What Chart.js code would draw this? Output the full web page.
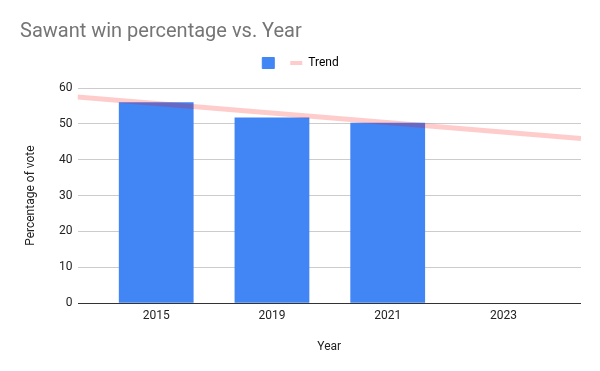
<!DOCTYPE html>
<html>
<head>
<meta charset="utf-8">
<script src="https://cdn.jsdelivr.net/npm/chart.js@4"></script>
<style>
  html, body { margin: 0; padding: 0; background: #fff; }
  #wrap { width: 600px; height: 371px; position: relative; }
</style>
</head>
<body>
<div id="wrap"><canvas id="winChart"></canvas></div>
<script>
// data
const years = ["2015", "2019", "2021", "2023"];
const winPct = [56.0, 51.8, 50.3, null];
// trend line end points (x in category index units, as drawn)
const trendX = [-0.68, 3.67];
const trendY = [57.5, 45.9];
const yTicks = [0, 10, 20, 30, 40, 50, 60];

const FONT = "Roboto, 'Liberation Sans', Arial, sans-serif";
const barColor = "#4285f4";
const trendColor = "rgba(255, 0, 0, 0.2)";
const trendKey = "#ffcccc";

// push the plot down a little below the legend
const legendGap = {
  id: "legendGap",
  afterInit(chart) {
    const lg = chart.legend;
    const fit = lg.fit;
    lg.fit = function () {
      fit.call(this);
      this.height += 9;
    };
  },
};

const ctx = document.getElementById("winChart");
new Chart(ctx, {
  data: {
    datasets: [
      {
        type: "bar",
        label: "",
        data: winPct.map((v, i) => ({ x: i, y: v })),
        backgroundColor: barColor,
        barPercentage: 0.646,
        categoryPercentage: 1,
        order: 2,
      },
      {
        type: "line",
        label: "Trend",
        data: trendX.map((x, i) => ({ x: x, y: trendY[i] })),
        borderColor: trendColor,
        borderWidth: 5,
        pointRadius: 0,
        fill: false,
        order: 1,
      },
    ],
  },
  plugins: [legendGap],
  options: {
    responsive: true,
    maintainAspectRatio: false,
    animation: false,
    layout: { padding: { left: 20, right: 19, top: 0, bottom: 13 } },
    plugins: {
      title: {
        display: true,
        text: "Sawant win percentage vs. Year",
        align: "start",
        color: "#757575",
        font: { family: FONT, size: 20, weight: "normal" },
        padding: { top: 20, bottom: 3 },
      },
      legend: {
        display: true,
        labels: {
          font: { family: FONT, size: 12 },
          color: "#222",
          boxWidth: 11,
          boxHeight: 11,
          padding: 10,
          usePointStyle: true,
          pointStyleWidth: 12,
          generateLabels: () => [
            {
              text: "",
              pointStyle: "rect",
              fillStyle: barColor,
              strokeStyle: barColor,
              lineWidth: 1,
              datasetIndex: 0,
            },
            {
              text: "Trend",
              pointStyle: "line",
              fillStyle: trendKey,
              strokeStyle: trendKey,
              lineWidth: 4,
              datasetIndex: 1,
            },
          ],
        },
      },
      tooltip: { enabled: false },
    },
    scales: {
      x: {
        type: "linear",
        offset: false,
        min: trendX[0],
        max: trendX[1],
        afterBuildTicks: (axis) => {
          axis.ticks = years.map((y, i) => ({ value: i }));
        },
        ticks: {
          callback: (v) => years[v],
          color: "#222",
          font: { family: FONT, size: 12 },
          maxRotation: 0,
          padding: -2,
        },
        grid: { display: false },
        border: { display: false },
        title: {
          display: true,
          text: "Year",
          color: "#222",
          font: { family: FONT, size: 12 },
          padding: { top: 18 },
        },
      },
      y: {
        min: 0,
        max: 60,
        afterBuildTicks: (axis) => {
          axis.ticks = yTicks.map((v) => ({ value: v }));
        },
        afterFit: (axis) => {
          axis.width = 57.5;
        },
        ticks: {
          color: "#222",
          font: { family: FONT, size: 12 },
          padding: 5,
        },
        grid: {
          color: (c) => (c.tick && c.tick.value === 0 ? "#333" : "#ccc"),
          lineWidth: 1,
          drawTicks: false,
        },
        border: { display: false },
        title: {
          display: true,
          text: "Percentage of vote",
          color: "#222",
          font: { family: FONT, size: 12 },
          padding: { bottom: 4 },
        },
      },
    },
  },
});
</script>
</body>
</html>
